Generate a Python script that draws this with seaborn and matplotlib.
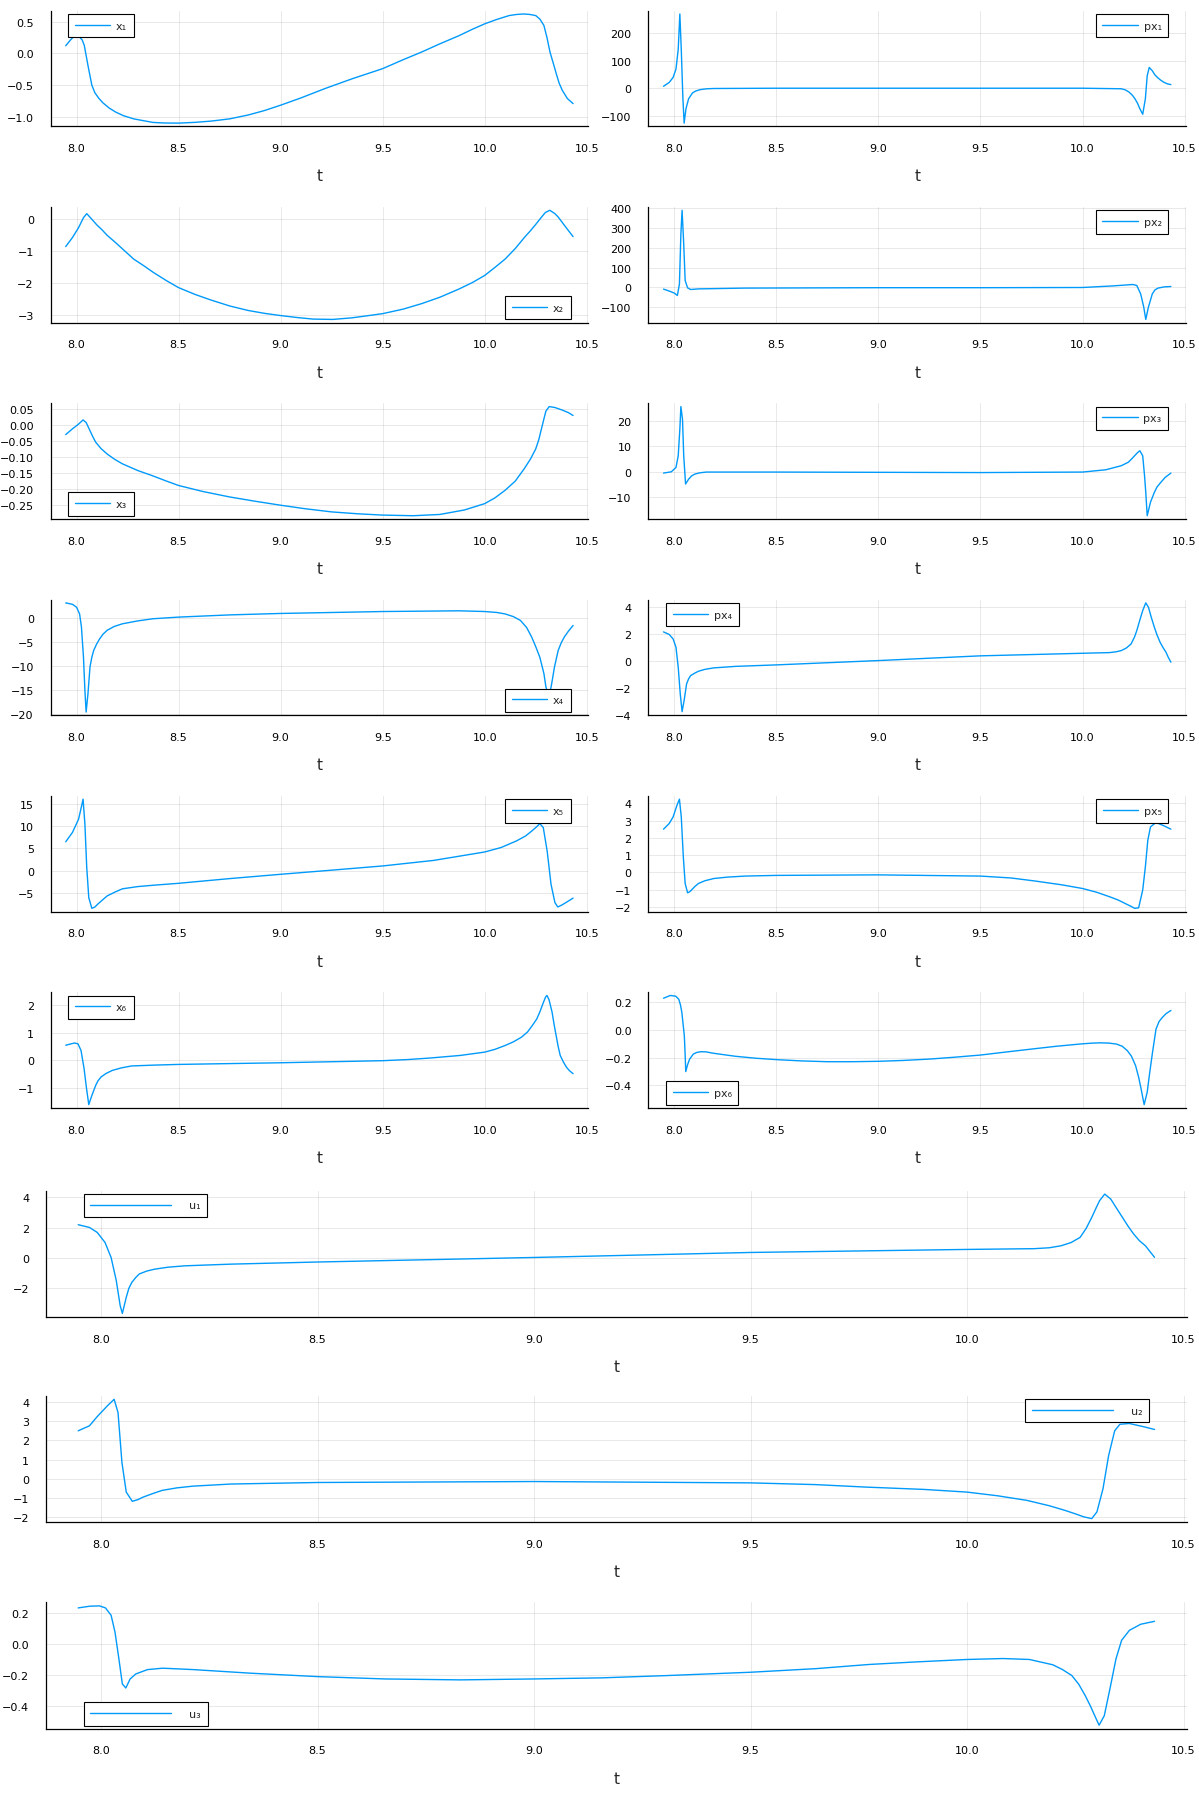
import matplotlib
matplotlib.use("Agg")
import matplotlib.pyplot as plt
import seaborn as sns

# ---- data (t, value) ----
x1_t = [7.947, 7.970, 8.000, 8.028, 8.038, 8.056, 8.075, 8.09, 8.11, 8.13, 8.16, 8.19, 8.23, 8.28, 8.33, 8.375,
        8.43, 8.5, 8.58, 8.66, 8.75, 8.84, 8.92, 9.0, 9.1, 9.22, 9.35, 9.5, 9.6, 9.69, 9.78, 9.875, 9.94, 10.0,
        10.06, 10.12, 10.155, 10.19, 10.22, 10.25, 10.27, 10.29, 10.305, 10.32, 10.34, 10.353, 10.365, 10.38,
        10.405, 10.433]
x1 = [0.12, 0.21, 0.31, 0.21, 0.125, -0.19, -0.50, -0.62, -0.71, -0.78, -0.86, -0.92, -0.98, -1.03, -1.06, -1.086,
      -1.095, -1.097, -1.085, -1.065, -1.03, -0.97, -0.90, -0.815, -0.70, -0.55, -0.40, -0.24, -0.10, 0.02, 0.15,
      0.28, 0.38, 0.465, 0.535, 0.595, 0.612, 0.62, 0.613, 0.595, 0.54, 0.44, 0.25, 0.02, -0.2, -0.345, -0.47,
      -0.58, -0.71, -0.79]

px1_t = [7.947, 7.975, 7.994, 8.008, 8.019, 8.027, 8.034, 8.042, 8.048, 8.057, 8.07, 8.089, 8.105, 8.127, 8.16,
         8.194, 8.5, 9.0, 9.5, 10.0, 10.19, 10.21, 10.228, 10.245, 10.257, 10.27, 10.281, 10.295, 10.308, 10.317,
         10.327, 10.342, 10.355, 10.37, 10.385, 10.4, 10.415, 10.433]
px1 = [7, 21, 39, 69, 140, 268, 140, -38, -126, -74, -38, -17, -10, -5, -2,
       -1, 0, 0, 0, 0, -2, -6, -14, -26, -38, -55, -74, -94, -38, 45,
       75, 63, 48, 37, 28, 21, 16, 13]

x2_t = [7.947, 7.98, 8.01, 8.034, 8.05, 8.075, 8.1, 8.122, 8.15, 8.19, 8.235, 8.28, 8.33, 8.375, 8.44, 8.5, 8.58,
        8.656, 8.75, 8.84, 8.92, 9.0, 9.08, 9.16, 9.256, 9.35, 9.42, 9.5, 9.6, 9.69, 9.78, 9.875, 9.94, 10.0,
        10.05, 10.1, 10.15, 10.194, 10.225, 10.25, 10.275, 10.297, 10.319, 10.344, 10.36, 10.38, 10.405, 10.433]
x2 = [-0.87, -0.59, -0.28, 0.03, 0.155, -0.02, -0.2, -0.33, -0.52, -0.74, -1.0, -1.26, -1.47, -1.67, -1.93, -2.15,
      -2.36, -2.53, -2.72, -2.86, -2.95, -3.02, -3.08, -3.13, -3.14, -3.09, -3.03, -2.96, -2.82, -2.65, -2.45,
      -2.19, -1.99, -1.77, -1.52, -1.26, -0.93, -0.59, -0.37, -0.18, 0.02, 0.19, 0.26, 0.155, 0.05, -0.12,
      -0.33, -0.56]

px2_t = [7.947, 7.975, 8.0, 8.015, 8.025, 8.032, 8.038, 8.046, 8.053, 8.065, 8.08, 8.118, 8.346, 9.0, 9.5,
         10.0, 10.15, 10.247, 10.266, 10.285, 10.3, 10.31, 10.323, 10.342, 10.355, 10.37, 10.4, 10.433]
px2 = [-8, -18, -28, -40, 18, 267, 387, 218, 35, -2, -10, -7, -3, -1, -1,
       0, 8, 15, 10, -32, -98, -160, -98, -32, -12, -3, 3, 5]

x3_t = [7.947, 7.98, 8.01, 8.032, 8.047, 8.066, 8.08, 8.094, 8.12, 8.15, 8.185, 8.225, 8.3, 8.375, 8.44, 8.5,
        8.62, 8.75, 8.88, 9.0, 9.12, 9.25, 9.38, 9.5, 9.65, 9.78, 9.9, 10.0, 10.05, 10.1, 10.15, 10.194, 10.225,
        10.25, 10.265, 10.278, 10.29, 10.3, 10.316, 10.344, 10.38, 10.41, 10.433]
x3 = [-0.029, -0.011, 0.004, 0.017, 0.009, -0.017, -0.036, -0.053, -0.073, -0.09, -0.106, -0.121, -0.142, -0.159,
      -0.175, -0.189, -0.208, -0.225, -0.239, -0.251, -0.262, -0.272, -0.278, -0.282, -0.284, -0.28, -0.266,
      -0.246, -0.228, -0.204, -0.175, -0.136, -0.105, -0.074, -0.045, -0.011, 0.02, 0.045, 0.059, 0.056, 0.048,
      0.04, 0.031]

px3_t = [7.947, 7.985, 8.008, 8.019, 8.027, 8.032, 8.04, 8.046, 8.055, 8.07, 8.085, 8.1, 8.125, 8.156, 8.5, 9.0,
         9.5, 10.0, 10.114, 10.19, 10.225, 10.247, 10.27, 10.281, 10.295, 10.304, 10.31, 10.317, 10.333, 10.352,
         10.365, 10.38, 10.405, 10.433]
px3 = [-0.5, 0, 1.7, 6.3, 16.8, 25.7, 20.7, 6.3, -4.8, -2.9, -1.6, -0.9, -0.4, -0.1, -0.1, -0.2,
       -0.3, -0.1, 0.8, 2.4, 3.8, 5.6, 7.6, 8.3, 6.3, -1.6, -8.1, -17.3, -12, -8.1, -6.0, -4.5, -2.2, -0.5]

x4_t = [7.947, 7.98, 8.0, 8.015, 8.024, 8.034, 8.041, 8.047, 8.056, 8.066, 8.075, 8.084, 8.098, 8.113, 8.13,
        8.15, 8.185, 8.225, 8.3, 8.375, 8.5, 8.75, 9.0, 9.5, 9.875, 10.0, 10.06, 10.1, 10.14, 10.175, 10.205,
        10.23, 10.25, 10.27, 10.29, 10.3, 10.315, 10.327, 10.342, 10.36, 10.375, 10.39, 10.41, 10.433]
x4 = [3.1, 2.8, 2.2, 0.8, -1.9, -8.2, -15.1, -19.6, -15.8, -10.2, -8.2, -6.8, -5.5, -4.4, -3.4,
      -2.6, -1.8, -1.25, -0.65, -0.2, 0.14, 0.6, 0.9, 1.3, 1.45, 1.3, 1.1, 0.8, 0.25, -0.55, -2.0,
      -4.0, -6.0, -8.2, -11.6, -14.4, -16.5, -14.0, -10.2, -6.8, -5.2, -4.0, -2.8, -1.6]

px4_t = [7.947, 7.975, 7.994, 8.008, 8.019, 8.029, 8.038, 8.048, 8.06, 8.07, 8.08, 8.1, 8.118, 8.15, 8.194, 8.3,
         8.5, 9.0, 9.5, 10.0, 10.133, 10.165, 10.19, 10.215, 10.238, 10.255, 10.266, 10.28, 10.295, 10.31,
         10.323, 10.337, 10.352, 10.365, 10.38, 10.395, 10.409, 10.42, 10.433]
px4 = [2.17, 1.98, 1.65, 1.04, -0.44, -2.42, -3.73, -2.9, -1.68, -1.3, -1.06, -0.88, -0.74, -0.6, -0.49, -0.38,
       -0.27, 0.05, 0.4, 0.59, 0.64, 0.7, 0.79, 0.98, 1.28, 1.8, 2.27, 3.0, 3.75, 4.32,
       4.0, 3.25, 2.52, 1.95, 1.41, 1.0, 0.67, 0.3, -0.07]

x5_t = [7.947, 7.98, 8.01, 8.023, 8.032, 8.041, 8.05, 8.06, 8.075, 8.09, 8.103, 8.125, 8.15, 8.19, 8.225, 8.3,
        8.375, 8.5, 8.75, 9.0, 9.25, 9.5, 9.75, 10.0, 10.08, 10.156, 10.2, 10.23, 10.255, 10.27, 10.287, 10.306,
        10.325, 10.344, 10.358, 10.38, 10.405, 10.433]
x5 = [6.5, 8.6, 11.6, 14.2, 16.1, 10.5, 0.7, -6.1, -8.5, -8.2, -7.6, -6.7, -5.7, -4.8, -4.1, -3.6,
      -3.3, -2.86, -1.8, -0.83, 0.1, 1.05, 2.3, 4.2, 5.2, 6.7, 7.8, 8.9, 9.9, 10.6, 9.7, 4.4,
      -3.1, -7.2, -8.2, -7.7, -7.0, -6.2]

px5_t = [7.947, 7.975, 7.994, 8.013, 8.025, 8.034, 8.044, 8.053, 8.065, 8.075, 8.084, 8.1, 8.118, 8.15, 8.194,
         8.26, 8.346, 8.5, 9.0, 9.5, 9.65, 9.77, 9.9, 10.0, 10.07, 10.133, 10.175, 10.209, 10.235, 10.256,
         10.275, 10.295, 10.308, 10.32, 10.333, 10.36, 10.4, 10.433]
px5 = [2.51, 2.84, 3.22, 3.9, 4.25, 3.22, 0.91, -0.64, -1.18, -1.12, -1.02, -0.82, -0.64, -0.48, -0.35,
       -0.27, -0.21, -0.17, -0.14, -0.21, -0.32, -0.5, -0.72, -0.93, -1.15, -1.41, -1.6, -1.8, -1.95, -2.08,
       -2.05, -1.02, 0.33, 1.87, 2.64, 2.9, 2.7, 2.51]

x6_t = [7.947, 7.99, 8.007, 8.022, 8.037, 8.049, 8.06, 8.075, 8.094, 8.105, 8.12, 8.145, 8.176, 8.22, 8.27, 8.38,
        8.5, 9.0, 9.5, 9.62, 9.73, 9.88, 10.0, 10.05, 10.1, 10.14, 10.18, 10.21, 10.234, 10.255, 10.27, 10.285,
        10.298, 10.305, 10.315, 10.33, 10.34, 10.35, 10.36, 10.37, 10.385, 10.4, 10.415, 10.433]
x6 = [0.55, 0.63, 0.6, 0.36, -0.3, -1.02, -1.6, -1.27, -0.9, -0.74, -0.6, -0.47, -0.36, -0.27, -0.2, -0.17,
      -0.145, -0.085, -0.01, 0.03, 0.085, 0.18, 0.3, 0.4, 0.54, 0.67, 0.84, 1.03, 1.27, 1.5, 1.75, 2.05,
      2.29, 2.35, 2.2, 1.75, 1.3, 0.9, 0.5, 0.18, -0.05, -0.24, -0.37, -0.48]

px6_t = [7.947, 7.98, 8.007, 8.022, 8.03, 8.037, 8.043, 8.049, 8.053, 8.056, 8.065, 8.075, 8.093, 8.11, 8.13,
         8.155, 8.187, 8.24, 8.3, 8.4, 8.5, 8.62, 8.75, 8.87, 9.0, 9.12, 9.25, 9.37, 9.5, 9.62, 9.75, 9.87, 10.0,
         10.05, 10.09, 10.13, 10.167, 10.195, 10.22, 10.24, 10.26, 10.275, 10.287, 10.302, 10.317, 10.33,
         10.343, 10.36, 10.375, 10.39, 10.41, 10.433]
px6 = [0.228, 0.248, 0.243, 0.22, 0.18, 0.124, 0.04, -0.043, -0.18, -0.3, -0.25, -0.21, -0.174, -0.162, -0.157,
       -0.158, -0.167, -0.178, -0.19, -0.204, -0.214, -0.223, -0.229, -0.229, -0.226, -0.22, -0.21, -0.197,
       -0.181, -0.16, -0.138, -0.118, -0.1, -0.095, -0.093, -0.095, -0.102, -0.118, -0.15, -0.19, -0.257,
       -0.34, -0.424, -0.538, -0.448, -0.3, -0.162, 0.005, 0.06, 0.088, 0.118, 0.14]

u1_t = [7.947, 7.973, 7.991, 8.009, 8.023, 8.035, 8.044, 8.049, 8.058, 8.064, 8.071, 8.08, 8.088, 8.105, 8.124,
        8.155, 8.194, 8.3, 8.5, 9.0, 9.5, 10.0, 10.155, 10.19, 10.217, 10.24, 10.261, 10.275, 10.288, 10.298,
        10.306, 10.318, 10.332, 10.345, 10.359, 10.372, 10.385, 10.398, 10.412, 10.422, 10.433]
u1 = [2.2, 2.02, 1.69, 1.03, 0.04, -1.49, -3.14, -3.65, -2.59, -2.0, -1.6, -1.28, -1.05, -0.86, -0.73,
      -0.6, -0.51, -0.4, -0.26, 0.04, 0.37, 0.57, 0.62, 0.68, 0.81, 1.02, 1.36, 1.95, 2.68, 3.3,
      3.78, 4.22, 3.89, 3.3, 2.68, 2.1, 1.58, 1.15, 0.81, 0.45, 0.05]

u2_t = [7.947, 7.973, 7.991, 8.014, 8.03, 8.039, 8.048, 8.058, 8.072, 8.085, 8.097, 8.12, 8.141, 8.175, 8.212,
        8.3, 8.5, 9.0, 9.5, 9.65, 9.767, 9.9, 10.0, 10.07, 10.138, 10.19, 10.226, 10.25, 10.27, 10.288, 10.3,
        10.314, 10.327, 10.341, 10.353, 10.375, 10.41, 10.433]
u2 = [2.5, 2.76, 3.24, 3.79, 4.14, 3.45, 0.86, -0.69, -1.17, -1.08, -0.95, -0.76, -0.6, -0.47, -0.38,
      -0.27, -0.19, -0.14, -0.21, -0.3, -0.43, -0.55, -0.69, -0.88, -1.12, -1.4, -1.64, -1.82, -1.98, -2.07,
      -1.72, -0.52, 1.21, 2.5, 2.84, 2.88, 2.7, 2.57]

u3_t = [7.947, 7.974, 7.996, 8.01, 8.023, 8.032, 8.041, 8.049, 8.057, 8.067, 8.08, 8.107, 8.142, 8.213, 8.345,
        8.5, 8.655, 8.83, 9.0, 9.156, 9.3, 9.5, 9.65, 9.774, 9.88, 10.0, 10.083, 10.144, 10.198, 10.22, 10.242,
        10.258, 10.273, 10.285, 10.295, 10.305, 10.317, 10.33, 10.344, 10.357, 10.375, 10.401, 10.433]
u3 = [0.23, 0.241, 0.243, 0.23, 0.183, 0.075, -0.097, -0.258, -0.284, -0.226, -0.194, -0.166, -0.157, -0.166,
      -0.189, -0.211, -0.226, -0.232, -0.226, -0.219, -0.205, -0.183, -0.16, -0.133, -0.117, -0.101, -0.095,
      -0.101, -0.135, -0.165, -0.204, -0.26, -0.333, -0.4, -0.462, -0.523, -0.462, -0.29, -0.097, 0.022,
      0.086, 0.125, 0.144]

x_ticks = [8.0, 8.5, 9.0, 9.5, 10.0, 10.5]

sns.set_style("white")
plt.rcParams["font.family"] = ["DejaVu Sans"]

W, H = 1199, 1799
fig = plt.figure(figsize=(W / 100, H / 100), dpi=100)
LINE = "#009AFA"


def panel(left, top, width, height, t, y, name, yticks, fmt, loc, wide=False):
    ax = fig.add_axes([left / W, 1 - (top + height) / H, width / W, height / H])
    sns.lineplot(x=t, y=y, ax=ax, color=LINE, linewidth=1.0, estimator=None, sort=False, label=name)
    span = t[-1] - t[0]
    ax.set_xlim(t[0] - 0.03 * span, t[-1] + 0.03 * span)
    yr = max(y) - min(y)
    ax.set_ylim(min(y) - 0.03 * yr, max(y) + 0.03 * yr)
    ax.set_xticks(x_ticks)
    ax.set_xticklabels(["%.1f" % v for v in x_ticks])
    ax.set_yticks(yticks)
    ax.set_yticklabels([(fmt % v).replace("-", "\u2212") for v in yticks])
    ax.grid(True, color="black", alpha=0.1, linewidth=0.6)
    for s in ["top", "right"]:
        ax.spines[s].set_visible(False)
    for s in ["left", "bottom"]:
        ax.spines[s].set_color("black")
        ax.spines[s].set_linewidth(0.9)
    ax.tick_params(direction="in", length=3, width=0.7, pad=12, labelsize=8, colors="black")
    ax.set_xlabel("t", fontsize=11, labelpad=11)
    ax.set_ylabel("")

    dx = 0.033
    dy = 3.3 / height
    anchors = {"upper left": (dx, 1 - dy), "upper right": (1 - dx, 1 - dy),
               "lower left": (dx, dy), "lower right": (1 - dx, dy)}
    leg = ax.legend(loc=loc, bbox_to_anchor=anchors[loc], borderaxespad=0, fontsize=8,
                    frameon=True, fancybox=False, framealpha=1, edgecolor="black",
                    borderpad=0.6, handlelength=7.3 if wide else 3.2,
                    handletextpad=1.6 if wide else 0.5)
    leg.get_frame().set_linewidth(0.8)
    return ax


small = [
    (x1_t, x1, "x\u2081", [-1.0, -0.5, 0.0, 0.5], "%.1f", "upper left"),
    (px1_t, px1, "px\u2081", [-100, 0, 100, 200], "%d", "upper right"),
    (x2_t, x2, "x\u2082", [-3, -2, -1, 0], "%d", "lower right"),
    (px2_t, px2, "px\u2082", [-100, 0, 100, 200, 300, 400], "%d", "upper right"),
    (x3_t, x3, "x\u2083", [-0.25, -0.20, -0.15, -0.10, -0.05, 0.0, 0.05], "%.2f", "lower left"),
    (px3_t, px3, "px\u2083", [-10, 0, 10, 20], "%d", "upper right"),
    (x4_t, x4, "x\u2084", [-20, -15, -10, -5, 0], "%d", "lower right"),
    (px4_t, px4, "px\u2084", [-4, -2, 0, 2, 4], "%d", "upper left"),
    (x5_t, x5, "x\u2085", [-5, 0, 5, 10, 15], "%d", "upper right"),
    (px5_t, px5, "px\u2085", [-2, -1, 0, 1, 2, 3, 4], "%d", "upper right"),
    (x6_t, x6, "x\u2086", [-1, 0, 1, 2], "%d", "upper left"),
    (px6_t, px6, "px\u2086", [-0.4, -0.2, 0.0, 0.2], "%.1f", "lower left"),
]

for i, (t, y, name, yt, fmt, loc) in enumerate(small):
    row, col = divmod(i, 2)
    left = 50.5 if col == 0 else 648.3
    panel(left, 11.7 + 196.3 * row, 537.8, 115.7, t, y, name, yt, fmt, loc)

wide_rows = [
    (u1_t, u1, "u\u2081", [-2, 0, 2, 4], "%d", "upper left", 1191.5),
    (u2_t, u2, "u\u2082", [-2, -1, 0, 1, 2, 3, 4], "%d", "upper right", 1396.7),
    (u3_t, u3, "u\u2083", [-0.4, -0.2, 0.0, 0.2], "%.1f", "lower left", 1603.3),
]
for t, y, name, yt, fmt, loc, top in wide_rows:
    panel(45.9, top, 1140.9, 126.5, t, y, name, yt, fmt, loc, wide=True)

fig.savefig("out.png", dpi=100)
plt.close(fig)
